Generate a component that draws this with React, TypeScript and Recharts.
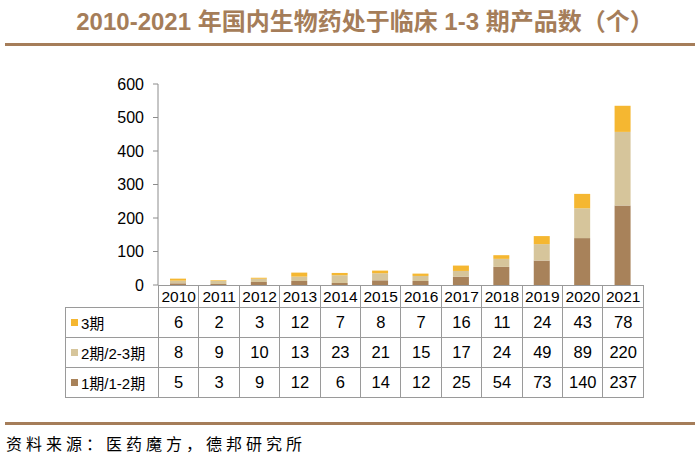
import { BarChart, Bar, XAxis, YAxis } from "recharts";

const years = ["2010", "2011", "2012", "2013", "2014", "2015", "2016", "2017", "2018", "2019", "2020", "2021"];
const phase3 = [6, 2, 3, 12, 7, 8, 7, 16, 11, 24, 43, 78];
const phase2 = [8, 9, 10, 13, 23, 21, 15, 17, 24, 49, 89, 220];
const phase1 = [5, 3, 9, 12, 6, 14, 12, 25, 54, 73, 140, 237];
const yTicks = [0, 100, 200, 300, 400, 500, 600];

const series = [
  { key: "p3", name: "3期", color: "#F5B731", values: phase3 },
  { key: "p2", name: "2期/2-3期", color: "#D6C59B", values: phase2 },
  { key: "p1", name: "1期/1-2期", color: "#A8825A", values: phase1 },
];

const data = years.map((year, i) => ({
  year,
  p1: phase1[i],
  p2: phase2[i],
  p3: phase3[i],
}));

const brown = "#A57D59";
const border = "1px solid #9a9a9a";
const numFont = "'Liberation Sans', Arial, 'Noto Sans CJK SC', sans-serif";

export default function App() {
  const colW = 485 / 12;
  return (
    <div style={{ position: "absolute", left: 0, top: 0, width: 700, height: 464, background: "#fff", overflow: "hidden" }}>
      <div
        style={{
          position: "absolute",
          left: 0,
          top: 2,
          width: 730,
          textAlign: "center",
          fontFamily: "'Liberation Sans', 'Noto Sans CJK SC', sans-serif",
          fontWeight: 700,
          fontSize: 24,
          color: brown,
          whiteSpace: "nowrap",
        }}
      >
        2010-2021 年国内生物药处于临床 1-3 期产品数（个）
      </div>
      <div style={{ position: "absolute", left: 5, top: 43, width: 690, height: 3, background: brown }} />

      <div style={{ position: "absolute", left: 0, top: 0 }}>
        <BarChart width={700} height={300} data={data} margin={{ top: 84, right: 57, left: 0, bottom: 15 }}>
          <XAxis dataKey="year" hide />
          <YAxis
            width={158}
            domain={[0, 600]}
            ticks={yTicks}
            interval={0}
            tickSize={5}
            tickMargin={9}
            axisLine={{ stroke: "#8c8c8c" }}
            tickLine={{ stroke: "#8c8c8c" }}
            tick={{ fill: "#000", fontSize: 16, fontFamily: numFont }}
          />
          <Bar dataKey="p1" stackId="a" fill="#A8825A" barSize={16} isAnimationActive={false} />
          <Bar dataKey="p2" stackId="a" fill="#D6C59B" barSize={16} isAnimationActive={false} />
          <Bar dataKey="p3" stackId="a" fill="#F5B731" barSize={16} isAnimationActive={false} />
        </BarChart>
      </div>

      <table
        style={{
          position: "absolute",
          left: 65,
          top: 285,
          borderCollapse: "collapse",
          tableLayout: "fixed",
          width: 578,
          fontFamily: numFont,
          color: "#000",
        }}
      >
        <colgroup>
          <col style={{ width: 93 }} />
          {years.map((y) => (
            <col key={y} style={{ width: colW }} />
          ))}
        </colgroup>
        <tbody>
          <tr style={{ height: 22 }}>
            <td style={{ padding: 0 }} />
            {years.map((y) => (
              <td key={y} style={{ border, padding: 0, textAlign: "center", fontSize: 15.5 }}>
                {y}
              </td>
            ))}
          </tr>
          {series.map((s) => (
            <tr key={s.key} style={{ height: 30 }}>
              <td style={{ border, padding: "0 0 0 5px", fontSize: 15, whiteSpace: "nowrap" }}>
                <span
                  style={{
                    display: "inline-block",
                    width: 7,
                    height: 7,
                    background: s.color,
                    marginRight: 3,
                    verticalAlign: "middle",
                  }}
                />
                <span style={{ verticalAlign: "middle" }}>{s.name}</span>
              </td>
              {s.values.map((v, i) => (
                <td key={i} style={{ border, padding: 0, textAlign: "center", fontSize: 16.5 }}>
                  {v}
                </td>
              ))}
            </tr>
          ))}
        </tbody>
      </table>

      <div style={{ position: "absolute", left: 5, top: 422, width: 690, height: 3, background: brown }} />
      <div
        style={{
          position: "absolute",
          left: 6,
          top: 431,
          fontFamily: "'Noto Sans CJK SC', serif",
          fontSize: 16,
          letterSpacing: 4,
          color: "#000",
          whiteSpace: "nowrap",
        }}
      >
        资料来源：医药魔方，德邦研究所
      </div>
    </div>
  );
}
